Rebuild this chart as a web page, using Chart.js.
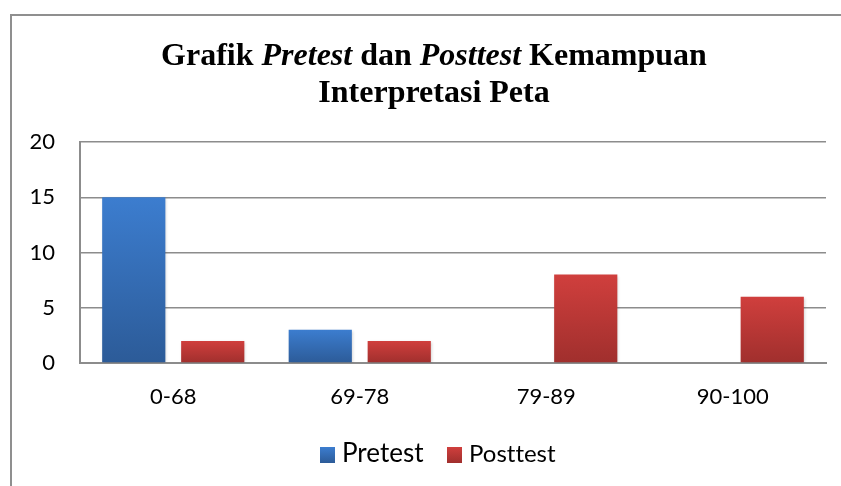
<!DOCTYPE html>
<html>
<head>
<meta charset="utf-8">
<script src="https://cdn.jsdelivr.net/npm/chart.js@4"></script>
<style>
  body { margin: 0; background: #fff; }
  #page { position: relative; width: 841px; height: 486px; overflow: hidden; }
  #frame { position: absolute; left: 10px; top: 14px; width: 900px; height: 520px; border: 2px solid #8f8f8f; box-sizing: border-box; }
  #title { position: absolute; left: 0; top: 36px; width: 868px; text-align: center;
           font: bold 32px "Liberation Serif", "Times New Roman", serif; line-height: 37px; color: #000; }
  #chartBox { position: absolute; left: 0; top: 0; width: 841px; height: 486px; }
  .swatch { position: absolute; width: 15px; height: 16px; }
  .legendText { position: absolute; font-family: Lato, sans-serif; line-height: 1.2; color: #000;
                white-space: nowrap; font-variant-ligatures: none; }
</style>
</head>
<body>
<div id="page">
  <div id="frame"></div>
  <div id="chartBox"><canvas id="scoreChart"></canvas></div>
  <div id="title">Grafik <i>Pretest</i> dan <i>Posttest</i> Kemampuan<br>Interpretasi Peta</div>
  <div id="legend"></div>
</div>
<script>
const categories = ['0-68', '69-78', '79-89', '90-100'];
const pretestValues = [15, 3, 0, 0];
const posttestValues = [2, 2, 8, 6];
const yTicks = [0, 5, 10, 15, 20];

const blueTop = '#3c7dcf', blueBottom = '#2c5b98';
const redTop = '#d03f3d', redBottom = '#a02f2d';

// gradient runs from the top of each bar down to its base
function barFill(top, bottom) {
    return (ctx) => {
        const chart = ctx.chart;
        if (!chart.chartArea || ctx.type !== 'data') return bottom;
        const y = chart.scales.y;
        const yTop = y.getPixelForValue(ctx.parsed.y);
        const yBase = y.getPixelForValue(0);
        if (yBase - yTop < 1) return bottom;
        const g = chart.ctx.createLinearGradient(0, yTop, 0, yBase);
        g.addColorStop(0, top);
        g.addColorStop(1, bottom);
        return g;
    };
}

const barShadow = {
    id: 'barShadow',
    beforeDatasetsDraw(chart) {
        const c = chart.ctx;
        c.save();
        c.shadowColor = 'rgba(0,0,0,0.22)';
        c.shadowBlur = 3;
        c.shadowOffsetX = 1;
        c.shadowOffsetY = 1;
    },
    afterDatasetsDraw(chart) {
        chart.ctx.restore();
    }
};

const gridColor = '#8c8c8c';

new Chart(document.getElementById('scoreChart'), {
    type: 'bar',
    data: {
        labels: categories,
        datasets: [
            { label: 'Pretest', data: pretestValues, backgroundColor: barFill(blueTop, blueBottom) },
            { label: 'Posttest', data: posttestValues, backgroundColor: barFill(redTop, redBottom) }
        ]
    },
    options: {
        responsive: true,
        maintainAspectRatio: false,
        animation: false,
        categoryPercentage: 0.847,
        barPercentage: 0.8,
        layout: { padding: { top: 142, right: 15, left: 0, bottom: 0 } },
        plugins: {
            legend: { display: false },
            title: { display: false },
            tooltip: { enabled: false }
        },
        scales: {
            x: {
                grid: { display: false },
                border: { display: true, color: gridColor, width: 2 },
                ticks: { font: { family: 'Lato', size: 22 }, color: '#000', padding: 13 },
                afterFit: (s) => { s.height = 123; }
            },
            y: {
                min: 0,
                max: 20,
                afterBuildTicks: (s) => { s.ticks = yTicks.map(v => ({ value: v })); },
                grid: { color: gridColor, lineWidth: 1.5, drawTicks: false },
                border: { display: true, color: gridColor, width: 2 },
                ticks: { font: { family: 'Lato', size: 22 }, color: '#000', padding: 25 },
                afterFit: (s) => { s.width = 80; }
            }
        }
    },
    plugins: [barShadow]
});

// legend: Pretest is set in a larger size than Posttest in the original
const legendItems = [
    { text: 'Pretest', top: blueTop, bottom: blueBottom, swatchX: 320, textX: 342, size: 26 },
    { text: 'Posttest', top: redTop, bottom: redBottom, swatchX: 447, textX: 469, size: 24 }
];
const legendEl = document.getElementById('legend');
legendItems.forEach(item => {
    const sw = document.createElement('div');
    sw.className = 'swatch';
    sw.style.left = item.swatchX + 'px';
    sw.style.top = '447px';
    sw.style.background = `linear-gradient(${item.top}, ${item.bottom})`;
    legendEl.appendChild(sw);
    const t = document.createElement('div');
    t.className = 'legendText';
    t.textContent = item.text;
    t.style.left = item.textX + 'px';
    t.style.fontSize = item.size + 'px';
    t.style.top = Math.round(463 - item.size * 0.987) + 'px';
    legendEl.appendChild(t);
});
</script>
</body>
</html>
